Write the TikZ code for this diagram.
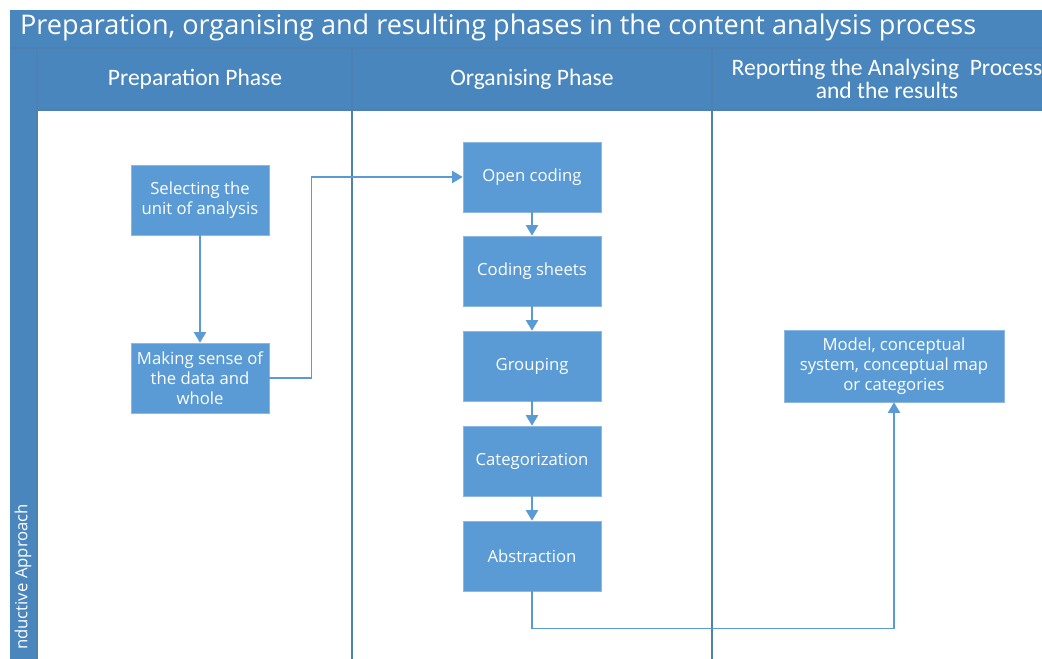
\documentclass[tikz,border=0pt]{standalone}
\usepackage{fontspec}
\setmainfont{Carlito}
\newfontfamily\boxfont{Open Sans}
\usetikzlibrary{arrows.meta}

\definecolor{lanebar}{HTML}{4A86BE}
\definecolor{laneline}{HTML}{4F80B2}
\definecolor{boxfill}{HTML}{5B9BD5}
\definecolor{boxedge}{HTML}{8DB8E2}

\tikzset{
  stage/.style={draw=boxedge, fill=boxfill, text=white, align=center,
    font={\boxfont\fontsize{9.5}{11.5}\selectfont},
    minimum width=2.76cm, minimum height=1.4cm, inner sep=2pt},
  lanehead/.style={text=white, align=center, font={\fontsize{13.4}{13}\selectfont}},
  flow/.style={draw=boxfill, line width=0.7pt, -{Triangle[length=6pt,width=7pt]}},
}

\begin{document}
\begin{tikzpicture}[x=0.02cm,y=-0.02cm]
    \useasboundingbox (0,0) rectangle (1042,659);
    \begin{scope}
        \clip (0,0) rectangle (1042,659);

        % title bar and lane heads
        \fill[lanebar] (10,10) rectangle (1042,659);
        \fill[white] (37,110) rectangle (1042,659);
        \draw[laneline, line width=0.6pt] (10,48) -- (1042,48);
        \draw[laneline, line width=0.6pt] (37,48) -- (37,659);
        \draw[laneline, line width=0.6pt] (37,110) -- (1042,110);
        \draw[laneline, line width=1.1pt] (352,48) -- (352,659);
        \draw[laneline, line width=1.1pt] (712,48) -- (712,659);

        \node[anchor=west, text=white, font={\boxfont\fontsize{15.4}{18}\selectfont}] (title) at (14,27) {Preparation, organising and resulting phases in the content analysis process};

        \node[lanehead] (prephead) at (195,79) {Preparation Phase};
        \node[lanehead] (orghead) at (532,79) {Organising Phase};
        \node[lanehead] (rephead) at (887,79) {Reporting the Analysing\ \ Process\\and the results};

        \node[rotate=90, anchor=west, text=white, font={\boxfont\fontsize{9.5}{12}\selectfont}] (lanelabel) at (23,656) {nductive Approach};

        % preparation phase
        \node[stage] (select) at (200,200) {Selecting the\\unit of analysis};
        \node[stage] (sense) at (200,378) {Making sense of\\the data and\\whole};

        % organising phase
        \node[stage] (open) at (532,177) {Open coding};
        \node[stage] (sheets) at (532,271) {Coding sheets};
        \node[stage] (group) at (532,366) {Grouping};
        \node[stage] (categ) at (532,461) {Categorization};
        \node[stage] (abstr) at (532,556) {Abstraction};

        % reporting
        \node[stage, minimum width=4.4cm, minimum height=1.44cm] (model) at (894,366) {Model, conceptual\\system, conceptual map\\or categories};

        % connectors
        \draw[flow] (select) -- (sense);
        \draw[flow] (sense.east) -- ++(42,0) |- (open.west);
        \foreach \a/\b in {open/sheets, sheets/group, group/categ, categ/abstr}
            \draw[flow] (\a) -- (\b);
        \draw[flow] (abstr.south) -- ++(0,37) -| (model.south);
    \end{scope}
\end{tikzpicture}
\end{document}
